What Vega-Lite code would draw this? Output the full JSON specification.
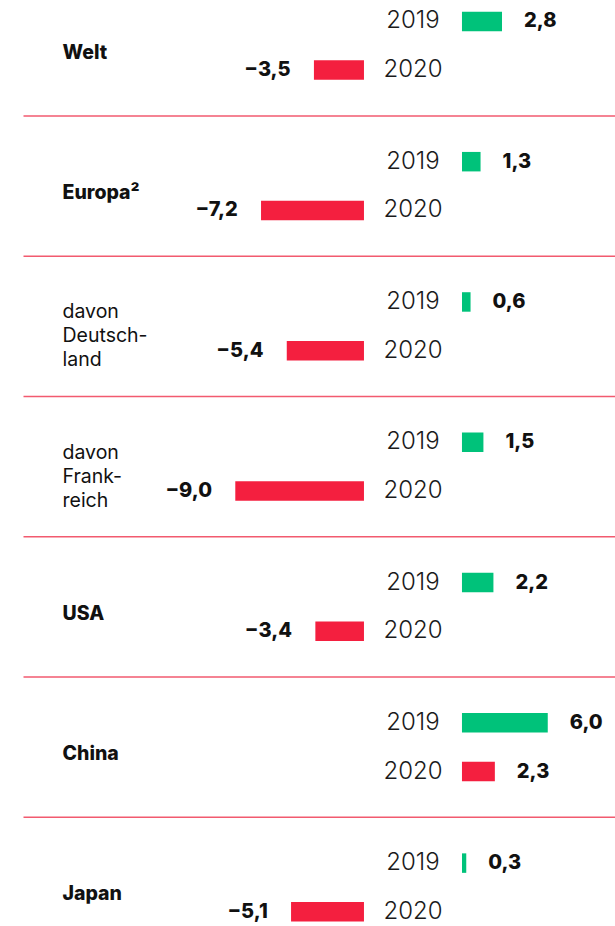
{
  "$schema": "https://vega.github.io/schema/vega-lite/v6.json",
  "width": 591.5,
  "height": 926,
  "autosize": {"type": "none"},
  "padding": {"left": 23.5, "top": 0, "right": 0, "bottom": 0},
  "background": "white",
  "config": {
    "view": {"stroke": null},
    "font": "Inter",
    "locale": {"number": {"decimal": ",", "thousands": ".", "grouping": [3], "currency": ["", " €"], "minus": "−"}}
  },
  "data": {
    "values": [
      {"group": "Welt", "year": "2019", "value": 2.8},
      {"group": "Welt", "year": "2020", "value": -3.5},
      {"group": "Europa²", "year": "2019", "value": 1.3},
      {"group": "Europa²", "year": "2020", "value": -7.2},
      {"group": "davon|Deutsch-|land", "year": "2019", "value": 0.6},
      {"group": "davon|Deutsch-|land", "year": "2020", "value": -5.4},
      {"group": "davon|Frank-|reich", "year": "2019", "value": 1.5},
      {"group": "davon|Frank-|reich", "year": "2020", "value": -9.0},
      {"group": "USA", "year": "2019", "value": 2.2},
      {"group": "USA", "year": "2020", "value": -3.4},
      {"group": "China", "year": "2019", "value": 6.0},
      {"group": "China", "year": "2020", "value": 2.3},
      {"group": "Japan", "year": "2019", "value": 0.3},
      {"group": "Japan", "year": "2020", "value": -5.1}
    ]
  },
  "layer": [
    {
      "transform": [{"filter": "datum.value > 0"}],
      "mark": {"type": "bar", "xOffset": 49, "x2Offset": 49},
      "encoding": {
        "y": {
          "field": "group",
          "type": "nominal",
          "scale": {
            "domain": ["Welt", "Europa²", "davon|Deutsch-|land", "davon|Frank-|reich", "USA", "China", "Japan"],
            "range": [-24.4, 957.6],
            "paddingInner": 0,
            "paddingOuter": 0
          },
          "axis": {
            "orient": "left",
            "offset": -38.5,
            "domain": false,
            "ticks": false,
            "tickSize": 0,
            "grid": false,
            "title": null,
            "labelPadding": 0,
            "labelAlign": "left",
            "labelBaseline": "middle",
            "labelFont": "Inter",
            "labelFontSize": 19.5,
            "labelColor": "#111111",
            "labelLineHeight": 24,
            "labelOffset": {"condition": {"test": "indexof(datum.value, 'davon') === 0", "value": -14}, "value": 7},
            "labelOverlap": false,
            "labelLimit": 300,
            "labelExpr": "split(datum.label, '|')",
            "labelFontWeight": {"condition": {"test": "indexof(datum.value, 'davon') === 0", "value": "normal"}, "value": 800}
          }
        },
        "x": {"field": "value", "type": "quantitative", "scale": {"domain": [-27.24, 14.13], "nice": false, "zero": false}, "axis": null},
        "x2": {"datum": 0},
        "yOffset": {"field": "year", "type": "nominal", "scale": {"paddingInner": 0.6, "paddingOuter": 0.74}},
        "color": {"field": "year", "type": "nominal", "scale": {"domain": ["2019", "2020"], "range": ["#00c27a", "#f41f3f"]}, "legend": null}
      }
    },
    {
      "transform": [{"filter": "datum.value < 0"}],
      "mark": {"type": "bar", "xOffset": -49, "x2Offset": -49},
      "encoding": {
        "y": {"field": "group", "type": "nominal"},
        "x": {"field": "value", "type": "quantitative"},
        "x2": {"datum": 0},
        "yOffset": {"field": "year", "type": "nominal"},
        "color": {"field": "year", "type": "nominal"}
      }
    },
    {
      "transform": [{"filter": "datum.year == '2019' && datum.group != 'Welt'"}],
      "mark": {"type": "rule", "color": "#f25a6f", "strokeWidth": 1.5},
      "encoding": {
        "y": {"field": "group", "type": "nominal", "bandPosition": 0}
      }
    },
    {
      "mark": {"type": "text", "align": "center", "baseline": "middle", "fontSize": 24, "fontWeight": 300, "color": "#1a1a1a"},
      "encoding": {
        "y": {"field": "group", "type": "nominal"},
        "x": {"datum": 0, "type": "quantitative"},
        "yOffset": {"field": "year", "type": "nominal"},
        "text": {"field": "year", "type": "nominal"}
      }
    },
    {
      "transform": [{"filter": "datum.value > 0"}],
      "mark": {"type": "text", "align": "left", "baseline": "middle", "fontSize": 20, "fontWeight": 800, "color": "#111111", "xOffset": 71},
      "encoding": {
        "y": {"field": "group", "type": "nominal"},
        "x": {"field": "value", "type": "quantitative"},
        "yOffset": {"field": "year", "type": "nominal"},
        "text": {"field": "value", "type": "quantitative", "format": ".1f"}
      }
    },
    {
      "transform": [{"filter": "datum.value < 0"}],
      "mark": {"type": "text", "align": "right", "baseline": "middle", "fontSize": 20, "fontWeight": 800, "color": "#111111", "xOffset": -72.3},
      "encoding": {
        "y": {"field": "group", "type": "nominal"},
        "x": {"field": "value", "type": "quantitative"},
        "yOffset": {"field": "year", "type": "nominal"},
        "text": {"field": "value", "type": "quantitative", "format": ".1f"}
      }
    }
  ]
}
